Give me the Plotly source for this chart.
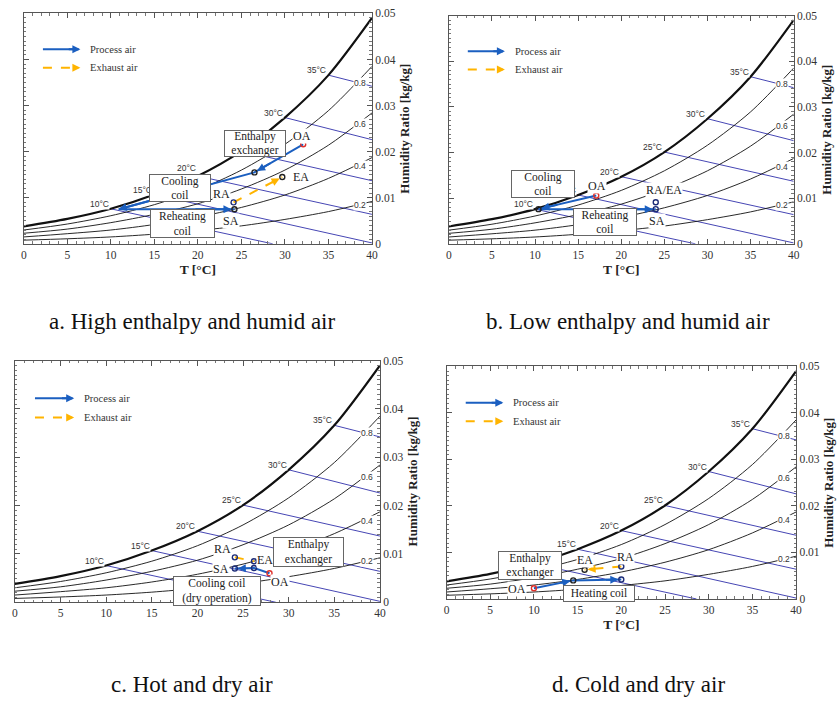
import plotly.graph_objects as go

# ---------------- data ----------------
T_GRID = [0, 5, 10, 15, 20, 25, 30, 35, 40]
W_SAT = [0.0038, 0.0054, 0.0076, 0.0107, 0.0147, 0.0201, 0.0274, 0.0366, 0.0490]
W_RH80 = [0.0030, 0.0043, 0.0061, 0.0085, 0.0117, 0.0160, 0.0216, 0.0289, 0.0385]
W_RH60 = [0.0023, 0.0032, 0.0046, 0.0064, 0.0087, 0.0119, 0.0160, 0.0214, 0.0284]
W_RH40 = [0.0015, 0.0022, 0.0030, 0.0042, 0.0058, 0.0079, 0.0106, 0.0142, 0.0187]
W_RH20 = [0.0008, 0.0011, 0.0015, 0.0021, 0.0029, 0.0039, 0.0053, 0.0070, 0.0092]
RH_LABELS = ["0.8", "0.6", "0.4", "0.2"]

WB_LABELS = ["10°C", "15°C", "20°C", "25°C", "30°C", "35°C"]
WB_T0 = [10, 15, 20, 25, 30, 35]
WB_W0 = [0.0076, 0.0107, 0.0147, 0.0201, 0.0274, 0.0366]
WB_T1 = [28.6, 40, 40, 40, 40, 40]
WB_W1 = [0.0, 0.0002, 0.0064, 0.0137, 0.0226, 0.0342]

X_TICKS = [0, 5, 10, 15, 20, 25, 30, 35, 40]
Y_TICKS = [0, 0.01, 0.02, 0.03, 0.04, 0.05]

# panel a: high enthalpy and humid air
A_PROCESS_T = [32.1, 26.5, 10.9, 24.2]
A_PROCESS_W = [0.0216, 0.0155, 0.0075, 0.0075]
A_EXHAUST_T = [24.1, 29.7]
A_EXHAUST_W = [0.0090, 0.0145]
# panel b: low enthalpy and humid air
B_PROCESS_T = [17.1, 10.4, 24.0]
B_PROCESS_W = [0.0106, 0.0076, 0.0076]
B_EXHAUST_T = [24.0]
B_EXHAUST_W = [0.0091]
# panel c: hot and dry air
C_PROCESS_T = [27.9, 26.2, 24.1]
C_PROCESS_W = [0.0060, 0.0071, 0.0070]
C_EXHAUST_T = [24.1, 26.2]
C_EXHAUST_W = [0.0093, 0.0085]
# panel d: cold and dry air
D_PROCESS_T = [10.0, 14.5, 20.0]
D_PROCESS_W = [0.0023, 0.0040, 0.0042]
D_EXHAUST_T = [20.0, 15.8]
D_EXHAUST_W = [0.0070, 0.0063]

CAPTIONS = ["a. High enthalpy and humid air", "b. Low enthalpy and humid air",
            "c. Hot and dry air", "d. Cold and dry air"]

# ---------------- styles / layout ----------------
RED = "#e0302a"
BLK = "#222222"
NAVY = "#1c2c78"
BLUE = "#1b5fc0"
ORANGE = "#ffb400"
WBC = "#4646b4"
SERIF = "Liberation Serif"
SANS = "Liberation Sans"

PANELS = [
    dict(dx=[0.025, 0.444], dy=[0.6553, 0.9893], xtitle=True, hide=["25°C"],
         lift={"20°C": 3},
         pt=A_PROCESS_T, pw=A_PROCESS_W, pcol=[RED, BLK, None, BLK],
         et=A_EXHAUST_T, ew=A_EXHAUST_W, ecol=[NAVY, BLK],
         labels=[("OA", 32.0, 0.0235), ("EA", 31.9, 0.0145), ("RA", 22.7, 0.0109), ("SA", 23.8, 0.0050)],
         boxes=[("Enthalpy<br>exchanger", 26.6, 0.0218, 60, 25),
                ("Cooling<br>coil", 18.0, 0.0121, 60, 26),
                ("Reheating<br>coil", 18.2, 0.0045, 63, 27)],
         cap=(0.227, 0.543)),
    dict(dx=[0.5365, 0.9515], dy=[0.6553, 0.9862], xtitle=True, hide=[], lift={},
         pt=B_PROCESS_T, pw=B_PROCESS_W, pcol=[RED, BLK, NAVY],
         et=B_EXHAUST_T, ew=B_EXHAUST_W, ecol=[NAVY],
         labels=[("OA", 17.2, 0.0126), ("RA/EA", 25.0, 0.0117), ("SA", 24.2, 0.0050)],
         boxes=[("Cooling<br>coil", 10.9, 0.0132, 62, 26),
                ("Reheating<br>coil", 18.1, 0.0047, 62, 26)],
         cap=(0.752, 0.543)),
    dict(dx=[0.0143, 0.4536], dy=[0.1358, 0.4862], xtitle=False, hide=[], lift={},
         pt=C_PROCESS_T, pw=C_PROCESS_W, pcol=[RED, NAVY, NAVY],
         et=C_EXHAUST_T, ew=C_EXHAUST_W, ecol=[NAVY, NAVY],
         labels=[("RA", 22.7, 0.0110), ("EA", 27.4, 0.0087), ("SA", 22.6, 0.0069), ("OA", 29.0, 0.0041)],
         boxes=[("Enthalpy<br>exchanger", 32.2, 0.0104, 69, 28),
                ("Cooling coil<br>(dry operation)", 22.1, 0.0023, 86, 28)],
         cap=(0.228, 0.016)),
    dict(dx=[0.5337, 0.9544], dy=[0.1406, 0.4777], xtitle=True, hide=["10°C"], lift={},
         pt=D_PROCESS_T, pw=D_PROCESS_W, pcol=[RED, BLK, NAVY],
         et=D_EXHAUST_T, ew=D_EXHAUST_W, ecol=[NAVY, BLK],
         labels=[("EA", 15.9, 0.0083), ("RA", 20.5, 0.0090), ("OA", 8.1, 0.0021)],
         boxes=[("Enthalpy<br>exchanger", 9.5, 0.0072, 62, 27),
                ("Heating coil", 17.4, 0.0011, 70, 15)],
         cap=(0.765, 0.016)),
]

fig = go.Figure()
annotations = []
layout = dict(width=840, height=702, margin=dict(l=0, r=0, t=0, b=0),
              paper_bgcolor="white", plot_bgcolor="white", showlegend=False,
              autosize=False)


def head(xr, yr, t0, w0, t1, w1, color, standoff, frac=0.35, width=2):
    return dict(x=t1, y=w1, ax=t1 - frac * (t1 - t0), ay=w1 - frac * (w1 - w0),
                xref=xr, yref=yr, axref=xr, ayref=yr, text="", showarrow=True,
                arrowhead=2, arrowsize=0.8, arrowwidth=width, arrowcolor=color,
                standoff=standoff)


for i, p in enumerate(PANELS):
    s = "" if i == 0 else str(i + 1)
    xr, yr = "x" + s, "y" + s
    layout["xaxis" + s] = dict(
        domain=p["dx"], range=[0, 40], anchor=yr, tickvals=X_TICKS,
        ticks="inside", ticklen=5, tickcolor="#555", showline=True, linecolor="#555",
        linewidth=1, mirror="ticks", showgrid=False, zeroline=False,
        minor=dict(ticks="inside", ticklen=2.5, dtick=1, tickcolor="#777"),
        tickfont=dict(family=SERIF, size=11.5, color="#333"),
        title=dict(text="<b>T [°C]</b>" if p["xtitle"] else "",
                   font=dict(family=SERIF, size=13.5, color="#222"), standoff=4),
    )
    layout["yaxis" + s] = dict(
        domain=p["dy"], range=[0, 0.05], anchor=xr, side="right", tickvals=Y_TICKS,
        ticks="inside", ticklen=5, tickcolor="#555", showline=True, linecolor="#555",
        linewidth=1, mirror="ticks", showgrid=False, zeroline=False,
        minor=dict(ticks="inside", ticklen=2.5, dtick=0.001, tickcolor="#777"),
        tickfont=dict(family=SERIF, size=11.5, color="#333"),
        title=dict(text="<b>Humidity Ratio [kg/kg]</b>",
                   font=dict(family=SERIF, size=13, color="#222"), standoff=5),
    )

    # wet-bulb lines
    for k in range(len(WB_T0)):
        fig.add_trace(go.Scatter(x=[WB_T0[k], WB_T1[k]], y=[WB_W0[k], WB_W1[k]], mode="lines",
                                 line=dict(color=WBC, width=1), xaxis=xr, yaxis=yr,
                                 hoverinfo="skip"))
        if WB_LABELS[k] in p["hide"]:
            continue
        annotations.append(dict(x=WB_T0[k], y=WB_W0[k], xref=xr, yref=yr, text=WB_LABELS[k],
                                showarrow=False, xanchor="right", yanchor="bottom",
                                xshift=-1, yshift=-1 + p["lift"].get(WB_LABELS[k], 0),
                                bgcolor="white", borderpad=0,
                                font=dict(family=SANS, size=8.5, color="#333")))
    # RH curves
    for w, wd in [(W_RH20, 0.9), (W_RH40, 0.9), (W_RH60, 0.9), (W_RH80, 0.9), (W_SAT, 2.2)]:
        fig.add_trace(go.Scatter(x=T_GRID, y=w, mode="lines", line=dict(color="#111", width=wd,
                                 shape="spline", smoothing=0.8), xaxis=xr, yaxis=yr,
                                 hoverinfo="skip"))
    rh_pos = [0.0350, 0.0259, 0.0169, 0.0085]
    for lab, wy in zip(RH_LABELS, rh_pos):
        annotations.append(dict(x=38.6, y=wy, xref=xr, yref=yr, text=lab, showarrow=False,
                                bgcolor="white", borderpad=0,
                                font=dict(family=SANS, size=8.5, color="#333")))

    # legend
    fig.add_trace(go.Scatter(x=[2.2, 6.3], y=[0.0422, 0.0422], mode="lines",
                             line=dict(color=BLUE, width=2), xaxis=xr, yaxis=yr, hoverinfo="skip"))
    annotations.append(head(xr, yr, 2.2, 0.0422, 6.5, 0.0422, BLUE, 0))
    fig.add_trace(go.Scatter(x=[2.2, 6.0], y=[0.0382, 0.0382], mode="lines",
                             line=dict(color=ORANGE, width=2, dash="dash"), xaxis=xr, yaxis=yr,
                             hoverinfo="skip"))
    annotations.append(head(xr, yr, 2.2, 0.0382, 6.5, 0.0382, ORANGE, 0, frac=0.12))
    for txt, wy in [("Process air", 0.0422), ("Exhaust air", 0.0382)]:
        annotations.append(dict(x=7.4, y=wy, xref=xr, yref=yr, text=txt, showarrow=False,
                                xanchor="left", font=dict(family=SERIF, size=10.5, color="#333")))

    # process air path
    pt, pw, pc = p["pt"], p["pw"], p["pcol"]
    fig.add_trace(go.Scatter(x=pt, y=pw, mode="lines", line=dict(color=BLUE, width=2),
                             xaxis=xr, yaxis=yr, hoverinfo="skip"))
    for j in range(1, len(pt)):
        so = 3 if pc[j] else 0
        annotations.append(head(xr, yr, pt[j - 1], pw[j - 1], pt[j], pw[j], BLUE, so))
    mt = [t for t, c in zip(pt, pc) if c]
    mw = [w for w, c in zip(pw, pc) if c]
    mc = [c for c in pc if c]
    fig.add_trace(go.Scatter(x=mt, y=mw, mode="markers",
                             marker=dict(symbol="circle-open", size=5, color=mc,
                                         line=dict(width=1.4, color=mc)),
                             xaxis=xr, yaxis=yr, hoverinfo="skip"))
    # exhaust air path
    et, ew, ec = p["et"], p["ew"], p["ecol"]
    if len(et) > 1:
        fig.add_trace(go.Scatter(x=et, y=ew, mode="lines",
                                 line=dict(color=ORANGE, width=2, dash="dash"),
                                 xaxis=xr, yaxis=yr, hoverinfo="skip"))
        annotations.append(head(xr, yr, et[0], ew[0], et[1], ew[1], ORANGE, 3, frac=0.25))
    fig.add_trace(go.Scatter(x=et, y=ew, mode="markers",
                             marker=dict(symbol="circle-open", size=5, color=ec,
                                         line=dict(width=1.4, color=ec)),
                             xaxis=xr, yaxis=yr, hoverinfo="skip"))

    # state labels
    for txt, tx, wy in p["labels"]:
        annotations.append(dict(x=tx, y=wy, xref=xr, yref=yr, text=txt, showarrow=False,
                                bgcolor="white", borderpad=0,
                                font=dict(family=SERIF, size=12, color="#222")))
    # component boxes
    for txt, tx, wy, bw, bh in p["boxes"]:
        annotations.append(dict(x=tx, y=wy, xref=xr, yref=yr, text=txt, showarrow=False,
                                width=bw, height=bh, bgcolor="white", bordercolor="#666",
                                borderwidth=1, borderpad=0, align="center", valign="middle",
                                font=dict(family=SERIF, size=11.5, color="#222")))
    # caption
    annotations.append(dict(x=p["cap"][0], y=p["cap"][1], xref="paper", yref="paper",
                            text=CAPTIONS[i], showarrow=False, xanchor="center",
                            yanchor="middle", font=dict(family=SERIF, size=23, color="#111")))

layout["annotations"] = annotations
fig.update_layout(**layout)
fig.write_html("out.html")
